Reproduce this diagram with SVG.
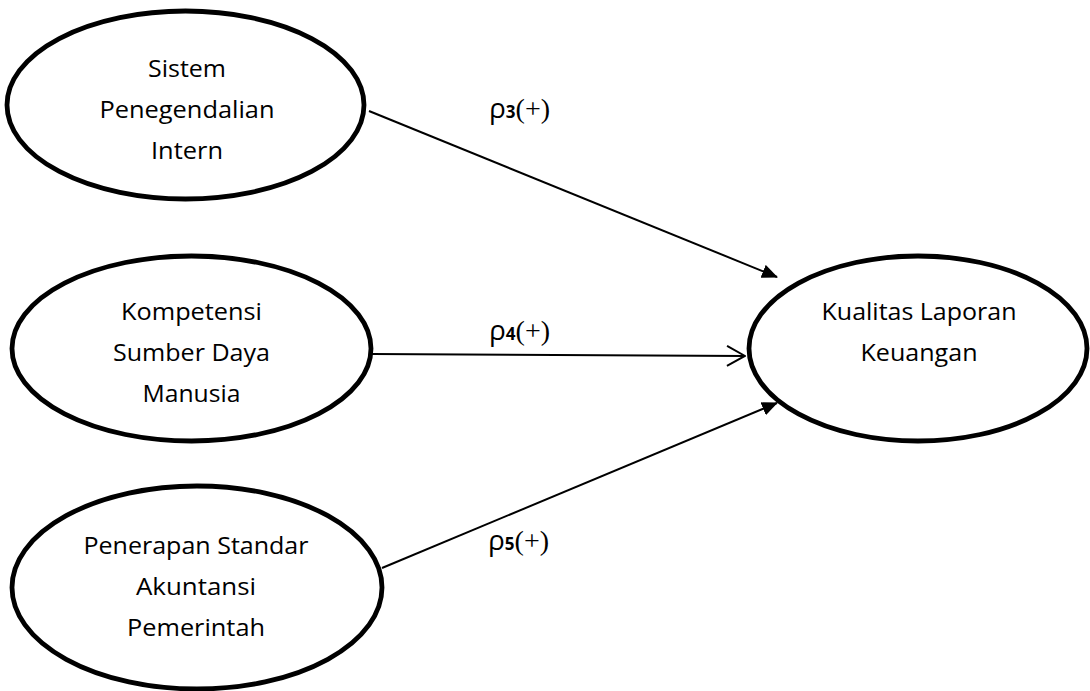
<svg xmlns="http://www.w3.org/2000/svg" width="1090" height="691" viewBox="0 0 1090 691">
<style>
.node{fill:#fff;stroke:#000;stroke-width:4.8}
.t{font-family:"Open Sans","Noto Sans",sans-serif;font-size:24px;fill:#000;text-anchor:middle}
.c{stroke:#000;stroke-width:2;fill:none}
.lab{font-family:"Open Sans","Noto Sans",sans-serif;font-size:28px;fill:#000}
.sub{font-size:17px;font-weight:bold}
.ser{font-family:"Liberation Serif",serif;font-size:28px}
</style>
<defs>
<marker id="fill" markerWidth="16" markerHeight="14" refX="15" refY="7" orient="auto" markerUnits="userSpaceOnUse">
<path d="M0,0 L16,7 L0,14 Z" fill="#000"/>
</marker>
<marker id="open" markerWidth="20" markerHeight="24" refX="19" refY="12" orient="auto" markerUnits="userSpaceOnUse">
<path d="M1,2 L19,12 L1,22" fill="none" stroke="#000" stroke-width="2"/>
</marker>
</defs>
<g id="connectors">
<line class="c" x1="369" y1="111" x2="777" y2="277" marker-end="url(#fill)"/>
<line class="c" x1="372" y1="354" x2="745" y2="356" marker-end="url(#open)"/>
<line class="c" x1="382" y1="568" x2="777" y2="403" marker-end="url(#fill)"/>
<text class="lab" x="489" y="118">ρ<tspan class="sub">3</tspan><tspan class="ser">(+)</tspan></text>
<text class="lab" x="489" y="340">ρ<tspan class="sub">4</tspan><tspan class="ser">(+)</tspan></text>
<text class="lab" x="488" y="550">ρ<tspan class="sub">5</tspan><tspan class="ser">(+)</tspan></text>
</g>
<g id="node-spi">
<ellipse class="node" cx="185.5" cy="105" rx="178.5" ry="94"/>
<text class="t" x="187" y="77" textLength="78" lengthAdjust="spacingAndGlyphs">Sistem</text>
<text class="t" x="187" y="118" textLength="175" lengthAdjust="spacingAndGlyphs">Penegendalian</text>
<text class="t" x="187" y="159" textLength="72" lengthAdjust="spacingAndGlyphs">Intern</text>
</g>
<g id="node-ksdm">
<ellipse class="node" cx="191.5" cy="348.5" rx="179.5" ry="92.5"/>
<text class="t" x="191.5" y="320" textLength="141" lengthAdjust="spacingAndGlyphs">Kompetensi</text>
<text class="t" x="191.5" y="361" textLength="157" lengthAdjust="spacingAndGlyphs">Sumber Daya</text>
<text class="t" x="191.5" y="402" textLength="98" lengthAdjust="spacingAndGlyphs">Manusia</text>
</g>
<g id="node-psap">
<ellipse class="node" cx="197" cy="587.5" rx="185" ry="101.5"/>
<text class="t" x="196" y="554" textLength="225" lengthAdjust="spacingAndGlyphs">Penerapan Standar</text>
<text class="t" x="196" y="595" textLength="120" lengthAdjust="spacingAndGlyphs">Akuntansi</text>
<text class="t" x="196" y="636" textLength="138" lengthAdjust="spacingAndGlyphs">Pemerintah</text>
</g>
<g id="node-klk">
<ellipse class="node" cx="918" cy="348.5" rx="169" ry="92.5"/>
<text class="t" x="919" y="320" textLength="195" lengthAdjust="spacingAndGlyphs">Kualitas Laporan</text>
<text class="t" x="919" y="361" textLength="117" lengthAdjust="spacingAndGlyphs">Keuangan</text>
</g>
</svg>
